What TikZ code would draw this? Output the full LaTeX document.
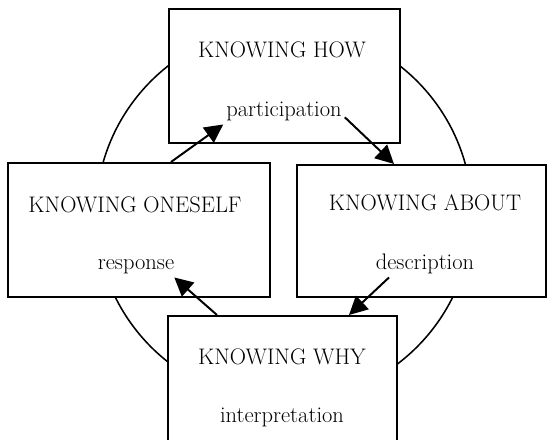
\documentclass[tikz,border=0pt]{standalone}
\usepackage{tikz}
\usetikzlibrary{arrows.meta,calc}

\begin{document}
\begin{tikzpicture}[x=0.025cm,y=-0.025cm,
    stage/.style={draw, fill=white, line width=1.4pt, inner sep=0pt, minimum height=3.35cm},
    word/.style={font=\fontsize{16}{19}\selectfont, anchor=base, inner sep=2pt},
    flow/.style={line width=1.4pt, -{Triangle[length=4.6mm,width=4.6mm]}}]
  \useasboundingbox (0,0) rectangle (548,440);
  \clip (0,0) rectangle (548,440);
  % the ring behind the four stages
  \draw[line width=1.1pt] (284,214) circle (4.7cm);
  \node[stage, minimum width=5.775cm] (how) at (284.5,76) {};
  \node[stage, minimum width=6.55cm] (oneself) at (139,230) {};
  \node[stage, minimum width=6.225cm, minimum height=3.3cm] (about) at (421.5,231) {};
  \node[stage, minimum width=5.725cm] (why) at (282.5,383) {};
  % titles and activities
  \node[word] (howT) at (282,58) {KNOWING HOW};
  \node[word] (partic) at (284,117) {participation};
  \node[word] (oneT) at (135,212) {KNOWING ONESELF};
  \node[word] (resp) at (136,270) {response};
  \node[word] (aboutT) at (425,211) {KNOWING ABOUT};
  \node[word] (descr) at (425,270) {description};
  \node[word] (whyT) at (282,364) {KNOWING WHY};
  \node[word] (interp) at (282,423) {interpretation};
  % the cycle
  \draw[flow] ($(oneself.north west)+(164,0)$) -- (partic.south west);
  \draw[flow] (partic.-5) -- ($(about.north west)+(98,0)$);
  \draw[flow] (descr.200) -- ($(why.north west)+(182,0)$);
  \draw[flow] ($(why.north west)+(50,0)$) -- (resp.-15);
\end{tikzpicture}
\end{document}
